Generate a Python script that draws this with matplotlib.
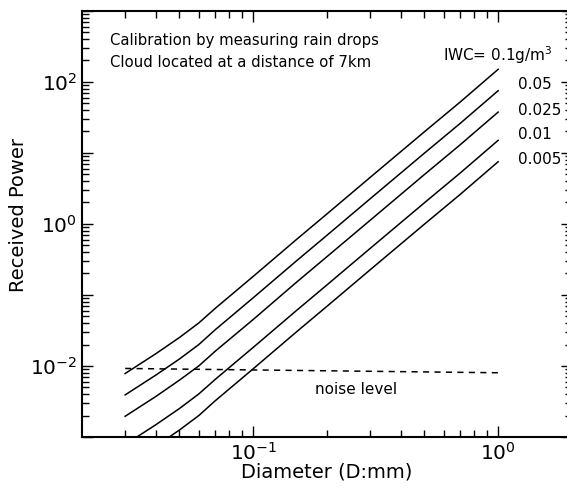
import numpy as np
import matplotlib
matplotlib.use('Agg')
import matplotlib.pyplot as plt
from matplotlib.ticker import FuncFormatter

plt.rcParams['font.family'] = ['DejaVu Sans']
plt.rcParams['mathtext.fontset'] = 'dejavusans'

diam = [0.03, 0.04, 0.05, 0.06, 0.07, 0.1, 0.15, 0.2, 0.3, 0.5, 0.7, 1.0]

# received power for each IWC curve
p_iwc_0100 = [0.0078, 0.0148, 0.0251, 0.0403, 0.0646, 0.182, 0.60, 1.38, 4.5, 19.8, 52, 150]
p_iwc_0050 = [0.0039, 0.0074, 0.0125, 0.0200, 0.0323, 0.091, 0.30, 0.69, 2.25, 9.9, 26, 75]
p_iwc_0025 = [0.00195, 0.0037, 0.0063, 0.0100, 0.0161, 0.045, 0.15, 0.345, 1.12, 4.95, 13, 37.5]
p_iwc_0010 = [0.00078, 0.00148, 0.00251, 0.00403, 0.00646, 0.0182, 0.060, 0.138, 0.45, 1.98, 5.2, 15]
p_iwc_0005 = [0.00039, 0.00074, 0.00125, 0.00200, 0.00323, 0.0091, 0.030, 0.069, 0.225, 0.99, 2.6, 7.5]

curves = [p_iwc_0100, p_iwc_0050, p_iwc_0025, p_iwc_0010, p_iwc_0005]
curve_labels = ['IWC= 0.1g/m$^3$', '0.05', '0.025', '0.01', '0.005']

# noise level line
noise_d = [0.03, 1.0]
noise_p = [0.0092, 0.008]

fig = plt.figure(figsize=(5.67, 4.92), dpi=100)
ax = fig.add_axes([0.1446, 0.112, 0.864, 0.866])

for p in curves:
    ax.plot(diam, p, color='black', lw=1.1)
ax.plot(noise_d, noise_p, color='black', lw=1.1, linestyle=(0, (4, 3.5)))

ax.set_xscale('log')
ax.set_yscale('log')
ax.set_xlim(0.02, 2.0)
ax.set_ylim(1e-3, 1e3)

ax.set_xticks([0.1, 1.0])
ax.set_yticks([1e-3, 1e-2, 1e-1, 1e0, 1e1, 1e2, 1e3])


def dec_label(v, pos):
    e = int(round(np.log10(v)))
    return '$10^{%d}$' % e


def even_dec_label(v, pos):
    e = int(round(np.log10(v)))
    return '$10^{%d}$' % e if e % 2 == 0 else ''


ax.xaxis.set_major_formatter(FuncFormatter(dec_label))
ax.yaxis.set_major_formatter(FuncFormatter(even_dec_label))

# minor ticks at 2..9 of every decade
subs = np.arange(2, 10)
xminor = [s * 10.0**e for e in range(-2, 1) for s in subs]
yminor = [s * 10.0**e for e in range(-3, 3) for s in subs]
ax.set_xticks([v for v in xminor if 0.02 < v < 2.0], minor=True)
ax.set_yticks(yminor, minor=True)

ax.tick_params(which='both', direction='in', top=True, right=True, labelsize=14.5)
ax.tick_params(which='major', length=8, width=1)
ax.tick_params(which='minor', length=5, width=1)
for s in ax.spines.values():
    s.set_linewidth(1.5)

ax.set_xlabel('Diameter (D:mm)', fontsize=14, labelpad=-1)
ax.set_ylabel('Received Power', fontsize=14)
ax.yaxis.set_label_coords(-0.11, 0.52)

ax.text(0.026, 388, 'Calibration by measuring rain drops', fontsize=10.7, va='center')
ax.text(0.026, 185, 'Cloud located at a distance of 7km', fontsize=10.7, va='center')

label_x = [0.596, 1.2, 1.2, 1.2, 1.2]
label_y = [239, 91, 40, 18, 8]
for lx, ly, lab in zip(label_x, label_y, curve_labels):
    ax.text(lx, ly, lab, fontsize=11, va='center')

ax.text(0.263, 0.0046, 'noise level', fontsize=11, ha='center', va='center')

fig.savefig('out.png', dpi=100)
